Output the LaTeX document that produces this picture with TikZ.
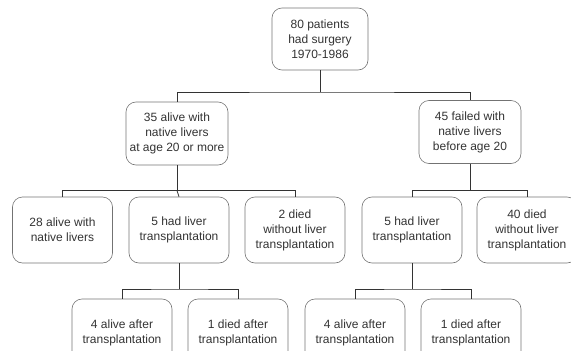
\documentclass[tikz,border=0pt]{standalone}
\usepackage{fontspec}
\setmainfont{Liberation Sans}
\begin{document}
\begin{tikzpicture}[x=1pt,y=-1pt,
  box/.style={draw=black!55, line width=0.6pt, rounded corners=10pt,
    minimum width=100pt, minimum height=64pt, inner sep=1pt,
    align=center, text=black!80, font=\fontsize{12}{15}\selectfont},
  conn/.style={draw=black!80, line width=0.8pt}]
\useasboundingbox (0,0) rectangle (571,351);
\node[box, minimum width=96pt, minimum height=62pt] (top) at (320,39) {80 patients\\had surgery\\1970-1986};
\node[box, minimum width=102pt, minimum height=63pt] (aliveN) at (177,133.5) {35 alive with\\native livers\\at age 20 or more};
\node[box, minimum width=102pt, minimum height=63pt] (failN) at (470,132) {45 failed with\\native livers\\before age 20};
\node[box, minimum height=66pt] (a28) at (62.5,230) {28 alive with\\native livers};
\node[box, minimum height=66pt] (txL) at (179,230) {5 had liver\\transplantation};
\node[box, minimum height=66pt] (d2) at (295,230) {2 died\\without liver\\transplantation};
\node[box, minimum height=66pt] (txR) at (412,230) {5 had liver\\transplantation};
\node[box, minimum height=66pt] (d40) at (527,230) {40 died\\without liver\\transplantation};
\node[box, minimum height=67pt] (aL) at (122,332.5) {4 alive after\\transplantation};
\node[box, minimum height=67pt] (dL) at (238,332.5) {1 died after\\transplantation};
\node[box, minimum height=67pt] (aR) at (355,332.5) {4 alive after\\transplantation};
\node[box, minimum height=67pt] (dR) at (471,332.5) {1 died after\\transplantation};
\coordinate (j1) at (320,92);
\coordinate (j2) at (177,190.5);
\coordinate (j3) at (470,190.5);
\coordinate (j4) at (179,289);
\coordinate (j5) at (412,289);
\draw[conn] (top.south) -- (j1);
\draw[conn] (aliveN.north) |- (j1) -| (failN.north);
\draw[conn] (aliveN.south) -- (j2);
\draw[conn] (a28.north) |- (j2) -| (d2.north);
\draw[conn] (txL.north) -- (j2);
\draw[conn] (failN.south) -- (j3);
\draw[conn] (txR.north) |- (j3) -| (d40.north);
\draw[conn] (txL.south) -- (j4);
\draw[conn] (aL.north) |- (j4) -| (dL.north);
\draw[conn] (txR.south) -- (j5);
\draw[conn] (aR.north) |- (j5) -| (dR.north);
\end{tikzpicture}
\end{document}
